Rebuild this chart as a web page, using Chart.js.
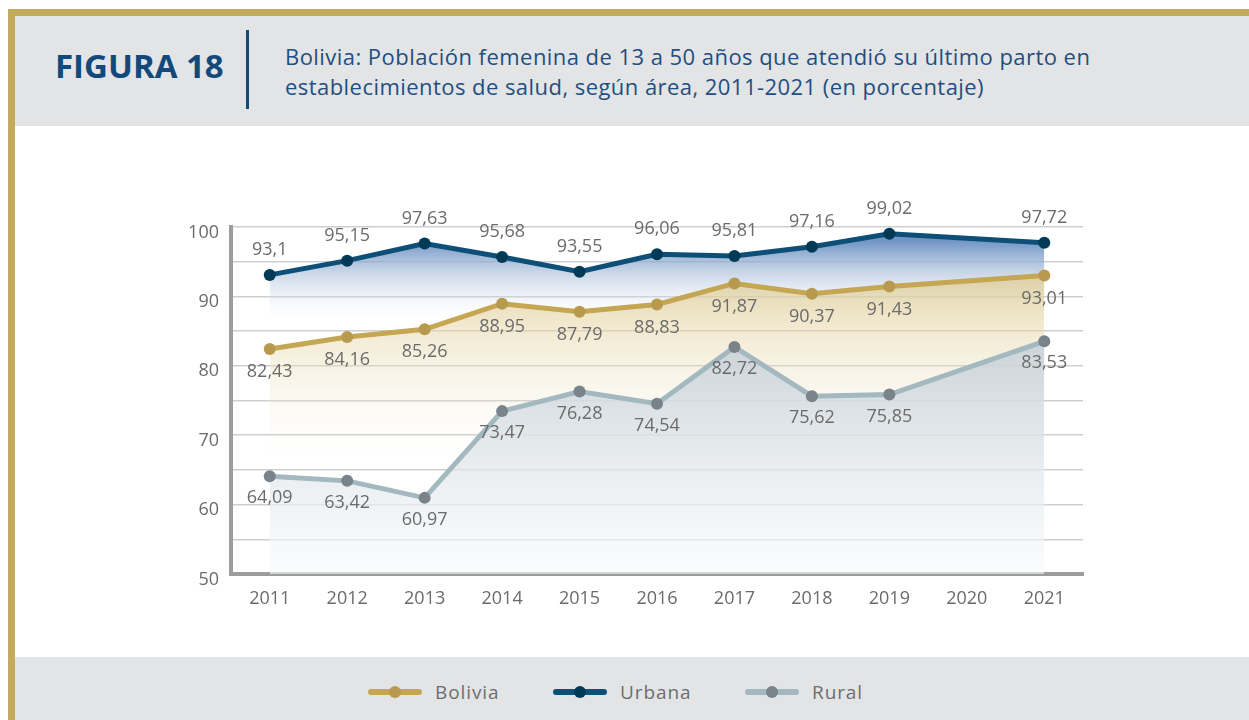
<!DOCTYPE html>
<html>
<head>
<meta charset="utf-8">
<script src="https://cdn.jsdelivr.net/npm/chart.js@4.4.1/dist/chart.umd.min.js"></script>
<style>
  body { margin: 0; width: 1249px; height: 720px; background: #fff; overflow: hidden; font-family: "Open Sans", sans-serif; position: relative; }
  .frame-top { position: absolute; left: 8px; top: 9px; right: 0; height: 7px; background: #c4aa5c; }
  .frame-left { position: absolute; left: 8px; top: 9px; width: 7px; bottom: 0; background: #c4aa5c; }
  .header { position: absolute; left: 15px; top: 16px; right: 0; height: 110px; background: #e3e4e6; }
  .fig { position: absolute; left: 40px; top: 27px; font-weight: 700; font-size: 33px; color: #12497a; }
  .sep { position: absolute; left: 231px; top: 14px; width: 3px; height: 79px; background: #12497a; }
  .sub { position: absolute; left: 270px; top: 25px; font-size: 22px; line-height: 30px; letter-spacing: 0.45px; color: #1f4f80; }
  .legendband { position: absolute; left: 15px; top: 657px; right: 0; bottom: 0; background: #e3e4e6; }
  #legend { position: absolute; left: 0; right: 0; top: 0; height: 63px; }
  .item { position: absolute; top: 22px; display: flex; align-items: center; font-size: 19px; letter-spacing: 0.9px; color: #6d6e70; }
  .swatch { position: relative; width: 54px; height: 6px; border-radius: 3px; margin-right: 13px; }
  .swatch i { position: absolute; left: 21px; top: -3px; width: 12px; height: 12px; border-radius: 50%; }
  #wrap { position: absolute; left: 170px; top: 190px; width: 919px; height: 430px; }
</style>
</head>
<body>
<div class="frame-top"></div>
<div class="frame-left"></div>
<div class="header">
  <div class="fig">FIGURA 18</div>
  <div class="sep"></div>
  <div class="sub">Bolivia: Población femenina de 13 a 50 años que atendió su último parto en<br>establecimientos de salud, según área, 2011-2021 (en porcentaje)</div>
</div>
<div id="wrap"><canvas id="chart"></canvas></div>
<div class="legendband"><div id="legend"></div></div>
<script>
const years = ['2011', '2012', '2013', '2014', '2015', '2016', '2017', '2018', '2019', '2020', '2021']
const bolivia = [82.43, 84.16, 85.26, 88.95, 87.79, 88.83, 91.87, 90.37, 91.43, null, 93.01]
const urbana = [93.1, 95.15, 97.63, 95.68, 93.55, 96.06, 95.81, 97.16, 99.02, null, 97.72]
const rural = [64.09, 63.42, 60.97, 73.47, 76.28, 74.54, 82.72, 75.62, 75.85, null, 83.53]
const yTicks = [50, 60, 70, 80, 90, 100]

// gradient from one value down to another, built on the y scale
function fade(top, bottom, c1, c2) {
  return (ctx) => {
    const chart = ctx.chart
    if (!chart.chartArea) return c2
    const y = chart.scales.y
    const g = chart.ctx.createLinearGradient(0, y.getPixelForValue(top), 0, y.getPixelForValue(bottom))
    g.addColorStop(0, c1)
    g.addColorStop(1, c2)
    return g
  }
}

// value labels above / below the points
const valueLabels = {
  id: 'valueLabels',
  afterDatasetsDraw(chart) {
    const c = chart.ctx
    c.save()
    c.font = '18px "Open Sans"'
    c.fillStyle = '#6b6b6b'
    c.textAlign = 'center'
    c.textBaseline = 'middle'
    chart.data.datasets.forEach((ds, i) => {
      const meta = chart.getDatasetMeta(i)
      meta.data.forEach((pt, j) => {
        const v = ds.data[j]
        if (v == null) return
        c.fillText(String(v).replace('.', ','), pt.x, pt.y + ds.labelShift)
      })
    })
    c.restore()
  }
}

const chart = new Chart(document.querySelector('#chart').getContext('2d'), {
  type: 'line',
  data: {
    labels: years,
    datasets: [
      {
        label: 'Bolivia',
        data: bolivia,
        borderColor: '#c4a653',
        pointBackgroundColor: '#b89a4f',
        backgroundColor: fade(93, 67, 'rgba(224,204,145,0.75)', 'rgba(245,238,220,0)'),
        fill: 'start',
        order: 1,
        labelShift: 23
      },
      {
        label: 'Urbana',
        data: urbana,
        borderColor: '#0d4f76',
        pointBackgroundColor: '#003a57',
        backgroundColor: fade(98, 86, 'rgba(105,143,192,0.95)', 'rgba(255,255,255,0)'),
        fill: 'start',
        order: 2,
        labelShift: -25
      },
      {
        label: 'Rural',
        data: rural,
        borderColor: '#a3b8bf',
        pointBackgroundColor: '#7a8389',
        backgroundColor: fade(83, 49, 'rgba(200,210,217,0.9)', 'rgba(250,251,252,0.6)'),
        fill: 'start',
        order: 0,
        labelShift: 22
      }
    ]
  },
  options: {
    responsive: true,
    maintainAspectRatio: false,
    animation: false,
    spanGaps: true,
    layout: { padding: { top: 37, left: 0, right: 0, bottom: 0 } },
    elements: {
      line: { borderWidth: 5, tension: 0 },
      point: { radius: 6, borderWidth: 0, hoverRadius: 6 }
    },
    plugins: { legend: { display: false }, tooltip: { enabled: false } },
    scales: {
      x: {
        offset: true,
        grid: { display: false },
        border: { color: '#9b9c9e', width: 4 },
        ticks: { color: '#6b6b6b', font: { family: 'Open Sans', size: 18 }, padding: 6 },
        afterFit(s) { s.height = 46 }
      },
      y: {
        min: 50,
        max: 100,
        grid: { color: '#cfcfcf', lineWidth: 1.5, drawTicks: false },
        border: { color: '#9b9c9e', width: 4 },
        ticks: {
          stepSize: 5,
          color: '#6b6b6b',
          padding: 12,
          font: { family: 'Open Sans', size: 18, lineHeight: 0.6 },
          // labels only on multiples of 10, nudged slightly below the line
          callback: (v) => yTicks.includes(v) ? ['', String(v)] : ''
        },
        afterFit(s) { s.width = 61 }
      }
    }
  },
  plugins: [valueLabels]
})

// legend from the datasets
const legend = document.querySelector('#legend')
const legendX = [353, 538, 730]
chart.data.datasets.forEach((ds, i) => {
  const item = document.createElement('div')
  item.className = 'item'
  item.style.left = legendX[i] + 'px'
  item.innerHTML = '<span class="swatch" style="background:' + ds.borderColor + '"><i style="background:' + ds.pointBackgroundColor + '"></i></span>' + ds.label
  legend.appendChild(item)
})
</script>
</body>
</html>
